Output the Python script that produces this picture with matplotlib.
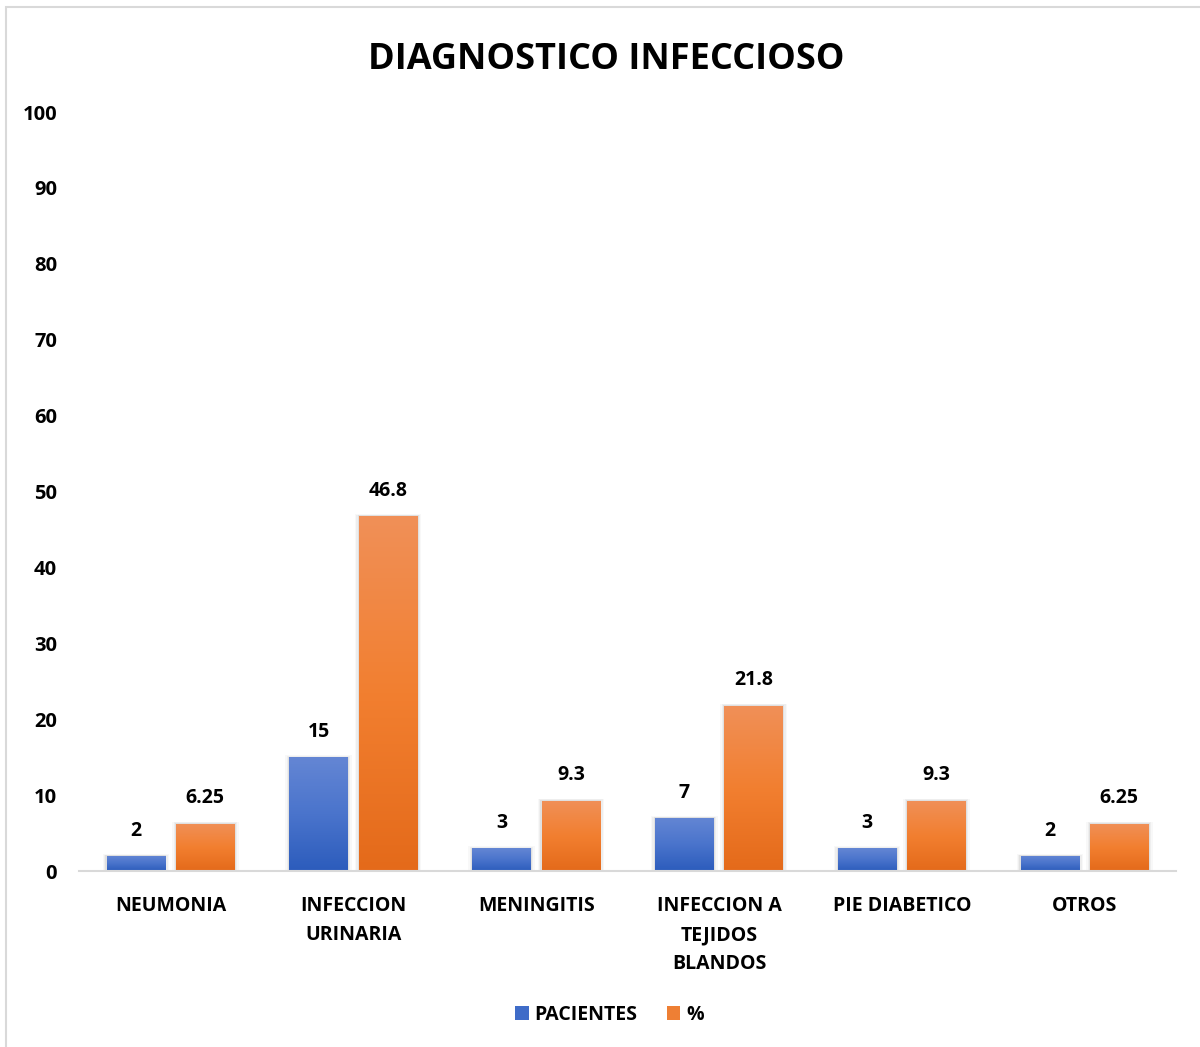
import numpy as np
import matplotlib.pyplot as plt
from matplotlib.patches import Rectangle
from matplotlib.colors import LinearSegmentedColormap

categorias = ["NEUMONIA", "INFECCION\nURINARIA", "MENINGITIS",
              "INFECCION A\nTEJIDOS\nBLANDOS", "PIE DIABETICO", "OTROS"]
pacientes = [2, 15, 3, 7, 3, 2]
porcentaje = [6.25, 46.8, 9.3, 21.8, 9.3, 6.25]
etiquetas_pac = ["2", "15", "3", "7", "3", "2"]
etiquetas_pct = ["6.25", "46.8", "9.3", "21.8", "9.3", "6.25"]
yticks = [0, 10, 20, 30, 40, 50, 60, 70, 80, 90, 100]

plt.rcParams['font.family'] = ['Open Sans', 'DejaVu Sans']
plt.rcParams['font.weight'] = 'bold'

fig = plt.figure(figsize=(12, 10.47), dpi=100)
ax = fig.add_axes([0.066, 0.168, 0.914, 0.725])

# outer chart border
fig.patches.append(Rectangle((0.005, -0.01), 1.0, 1.003, transform=fig.transFigure,
                             fill=False, edgecolor='#d9d9d9', linewidth=1.5))

azul = LinearSegmentedColormap.from_list('azul', ['#2c5cbc', '#4a74cc', '#6486d4'])
naranja = LinearSegmentedColormap.from_list('naranja', ['#e46a1a', '#f27f30', '#f09058'])

x = np.arange(len(categorias))
ancho = 0.32
desp = 0.19

grad = np.linspace(0, 1, 256).reshape(-1, 1)


def barra(xc, h, cmap):
    x0 = xc - ancho / 2
    # soft shadow behind the bar
    for k, a in zip([0.022, 0.014, 0.007], [0.05, 0.08, 0.12]):
        sh = Rectangle((x0 - k, 0), ancho + 2 * k, h + k * 12, facecolor='#808080',
                       edgecolor='none', alpha=a, zorder=1)
        ax.add_patch(sh)
    rect = Rectangle((x0, 0), ancho, h, facecolor='none', edgecolor='none', zorder=2)
    ax.add_patch(rect)
    im = ax.imshow(grad, cmap=cmap, origin='lower', aspect='auto',
                   extent=(x0, x0 + ancho, 0, h), zorder=2)
    im.set_clip_path(rect)


for i in range(len(categorias)):
    barra(x[i] - desp, pacientes[i], azul)
    barra(x[i] + desp, porcentaje[i], naranja)
    ax.text(x[i] - desp, pacientes[i] + 2.0, etiquetas_pac[i], ha='center', va='bottom',
            fontsize=14, fontweight='bold', color='black')
    ax.text(x[i] + desp, porcentaje[i] + 2.0, etiquetas_pct[i], ha='center', va='bottom',
            fontsize=14, fontweight='bold', color='black')

ax.set_xlim(-0.5, len(categorias) - 0.5)
ax.set_ylim(0, 100)
ax.set_yticks(yticks)
ax.set_yticklabels([str(v) for v in yticks], fontsize=14.5, fontweight='bold')
ax.set_xticks(x)
ax.set_xticklabels(categorias, fontsize=14, fontweight='bold', linespacing=1.6, va='top')
ax.tick_params(axis='x', length=0, pad=18)
ax.tick_params(axis='y', length=0, pad=16)
for s in ['top', 'right', 'left']:
    ax.spines[s].set_visible(False)
ax.spines['bottom'].set_color('#d9d9d9')
ax.spines['bottom'].set_linewidth(1.5)

fig.text(0.505, 0.943, "DIAGNOSTICO INFECCIOSO", ha='center', va='center',
         fontsize=26, fontweight='bold')

# legend
h1 = Rectangle((0, 0), 1, 1, facecolor='#3f6cc8')
h2 = Rectangle((0, 0), 1, 1, facecolor='#ee7f34')
fig.legend([h1, h2], ["PACIENTES", "%"], loc='center', bbox_to_anchor=(0.508, 0.031),
           ncol=2, frameon=False, handlelength=0.7, handleheight=0.7,
           handletextpad=0.3, columnspacing=1.5, prop={'weight': 'bold', 'size': 14})

fig.savefig('out.png', dpi=100)
